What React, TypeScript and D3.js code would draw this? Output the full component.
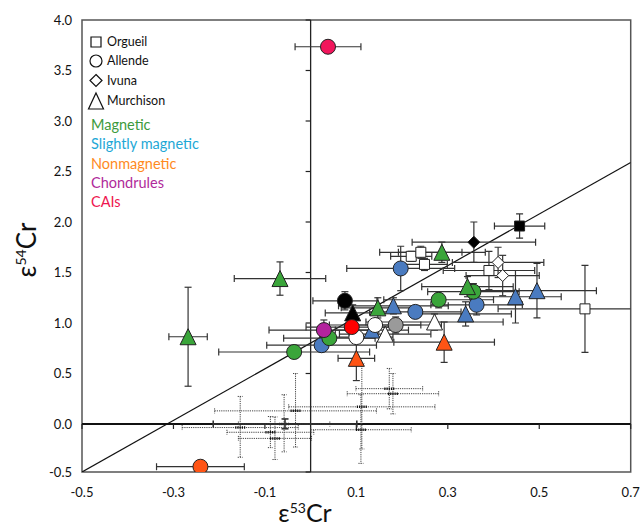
import * as d3 from "d3";

// [x (ε53Cr), y (ε54Cr), x error, y error]
type P = [number, number, number, number];

const xTicks = [-0.5, -0.3, -0.1, 0.1, 0.3, 0.5, 0.7];
const yTicks = [-0.5, 0, 0.5, 1, 1.5, 2, 2.5, 3, 3.5, 4];
const sampleNames = ["Orgueil", "Allende", "Ivuna", "Murchison"];
const fractionNames = ["Magnetic", "Slightly magnetic", "Nonmagnetic", "Chondrules", "CAIs"];

// Orgueil (squares)
const orgueilBlack: P[] = [[0.457, 1.96, 0.055, 0.12]];
const orgueilWhite: P[] = [
  [0.22, 1.66, 0.045, 0.05],
  [0.241, 1.7, 0.09, 0.06],
  [0.249, 1.58, 0.05, 0.06],
  [0.39, 1.52, 0.1, 0.19],
  [0.6, 1.14, 0.19, 0.43],
];

// Ivuna (diamonds)
const ivunaBlack: P[] = [[0.357, 1.8, 0.135, 0.2]];
const ivunaWhite: P[] = [
  [0.41, 1.6, 0.1, 0.15],
  [0.42, 1.47, 0.08, 0.2],
];

// Murchison (triangles)
const murchMagnetic: P[] = [
  [-0.067, 1.44, 0.1, 0.165],
  [-0.268, 0.864, 0.042, 0.49],
  [0.287, 1.7, 0.095, 0.1],
  [0.147, 1.15, 0.08, 0.1],
  [0.343, 1.36, 0.1, 0.1],
];
const murchSlight: P[] = [
  [0.134, 0.93, 0.08, 0.06],
  [0.181, 1.17, 0.12, 0.08],
  [0.339, 1.09, 0.1, 0.12],
  [0.448, 1.26, 0.1, 0.26],
  [0.495, 1.32, 0.13, 0.27],
];
const murchWhite: P[] = [
  [0.163, 0.89, 0.1, 0.07],
  [0.271, 1.01, 0.15, 0.08],
];
const murchNonmag: P[] = [
  [0.1, 0.65, 0.04, 0.22],
  [0.292, 0.81, 0.11, 0.2],
];
const murchBlack: P[] = [[0.092, 1.1, 0.06, 0.08]];

// Allende (circles)
const allMagnetic: P[] = [
  [-0.036, 0.713, 0.165, 0.05],
  [0.041, 0.85, 0.1, 0.06],
  [0.28, 1.23, 0.12, 0.08],
  [0.356, 1.31, 0.1, 0.08],
];
const allSlight: P[] = [
  [0.024, 0.78, 0.12, 0.06],
  [0.229, 1.11, 0.1, 0.06],
  [0.363, 1.18, 0.1, 0.1],
  [0.197, 1.54, 0.118, 0.22],
];
const allWhite: P[] = [
  [0.1, 0.86, 0.08, 0.06],
  [0.141, 0.98, 0.1, 0.06],
];
const allGray: P[] = [[0.186, 0.98, 0.1, 0.08]];
const allRed: P[] = [[0.09, 0.96, 0.1, 0.08]];
const allBlack: P[] = [[0.075, 1.22, 0.07, 0.09]];
const allNonmag: P[] = [[-0.241, -0.445, 0.096, 0]];
const chondrules: P[] = [[0.029, 0.93, 0.12, 0.1]];
const cais: P[] = [[0.038, 3.735, 0.072, 0]];

// literature data, dotted error bars only
const dottedBars: P[] = [
  [-0.154, -0.037, 0.127, 0.31],
  [-0.088, -0.086, 0.095, 0.16],
  [-0.078, -0.15, 0.08, 0.22],
  [-0.033, 0.13, 0.177, 0.37],
  [-0.058, 0.0, 0.1, 0.29],
  [0.112, 0.17, 0.16, 0.43],
  [0.11, -0.06, 0.11, 0.35],
  [0.172, 0.35, 0.073, 0.2],
  [0.18, 0.3, 0.1, 0.2],
];
const solidBars: P[] = [[-0.056, 0.0, 0.157, 0.05]];

// 1:1 reference line end points
const refLineX = [-0.5, 0.7];
const refLineY = [-0.5, 2.59];

const W = 644;
const H = 530;
const L = 82;
const R = 630.7;
const T = 20;
const B = 472;

const x = d3.scaleLinear().domain([-0.5, 0.7]).range([L, R]);
const y = d3.scaleLinear().domain([-0.5, 0, 4]).range([B, 424, T]);

const GREEN = "#3aa53a";
const BLUE = "#4a7bc0";
const ORANGE = "#ff5414";
const PURPLE = "#b3239d";
const CAI = "#f2165c";

type Shape = "square" | "circle" | "diamond" | "triangle";

const shapePath = (s: Shape, big = true): string => {
  if (s === "circle") {
    const r = big ? 7.5 : 6;
    return `M${-r},0A${r},${r} 0 1,0 ${r},0A${r},${r} 0 1,0 ${-r},0Z`;
  }
  if (s === "square") {
    const h = 5;
    return `M${-h},${-h}H${h}V${h}H${-h}Z`;
  }
  if (s === "diamond") {
    const h = 6;
    return `M0,${-h}L${h},0L0,${h}L${-h},0Z`;
  }
  const w = big ? 8 : 7.5;
  const h = 8;
  return `M0,${-h}L${w},${h}L${-w},${h}Z`;
};

const series: { data: P[]; shape: Shape; fill: string }[] = [
  { data: orgueilWhite, shape: "square", fill: "#fff" },
  { data: orgueilBlack, shape: "square", fill: "#000" },
  { data: ivunaWhite, shape: "diamond", fill: "#fff" },
  { data: ivunaBlack, shape: "diamond", fill: "#000" },
  { data: allNonmag, shape: "circle", fill: ORANGE },
  { data: allSlight, shape: "circle", fill: BLUE },
  { data: allMagnetic, shape: "circle", fill: GREEN },
  { data: murchMagnetic, shape: "triangle", fill: GREEN },
  { data: murchSlight, shape: "triangle", fill: BLUE },
  { data: chondrules, shape: "circle", fill: PURPLE },
  { data: allBlack, shape: "circle", fill: "#000" },
  { data: murchBlack, shape: "triangle", fill: "#000" },
  { data: allWhite, shape: "circle", fill: "#fff" },
  { data: allRed, shape: "circle", fill: "#ff0000" },
  { data: murchWhite, shape: "triangle", fill: "#fff" },
  { data: allGray, shape: "circle", fill: "#9a9a9a" },
  { data: murchNonmag, shape: "triangle", fill: ORANGE },
  { data: cais, shape: "circle", fill: CAI },
];

const legendColors = ["#3c9a3c", "#1ea8d6", "#ff8a1e", "#b02a9a", "#ee1650"];
const legendShapes: Shape[] = ["square", "circle", "diamond", "triangle"];

const FONT = "Lato, 'Open Sans', sans-serif";

const ErrorBar = ({ p, dotted, w = 1.2 }: { p: P; dotted?: boolean; w?: number }) => {
  const [vx, vy, ex, ey] = p;
  const cx = x(vx);
  const cy = y(vy);
  const cap = dotted ? 2.5 : 3.5;
  const stroke = dotted ? "#444" : "#333";
  const dash = dotted ? "1.2,1" : undefined;
  const x0 = Math.max(L, x(vx - ex));
  const x1 = Math.min(R, x(vx + ex));
  const y0 = y(vy + ey);
  const y1 = Math.min(B, y(vy - ey));
  return (
    <g stroke={stroke} strokeWidth={w} strokeDasharray={dash} fill="none">
      {ex > 0 && <line x1={x0} x2={x1} y1={cy} y2={cy} />}
      {ex > 0 && x(vx - ex) >= L && <line x1={x0} x2={x0} y1={cy - cap} y2={cy + cap} strokeDasharray={undefined} />}
      {ex > 0 && x(vx + ex) <= R && <line x1={x1} x2={x1} y1={cy - cap} y2={cy + cap} strokeDasharray={undefined} />}
      {ey > 0 && <line x1={cx} x2={cx} y1={y0} y2={y1} />}
      {ey > 0 && <line x1={cx - cap} x2={cx + cap} y1={y0} y2={y0} strokeDasharray={undefined} />}
      {ey > 0 && y(vy - ey) <= B && <line x1={cx - cap} x2={cx + cap} y1={y1} y2={y1} strokeDasharray={undefined} />}
      {dotted && <line x1={cx - 5} x2={cx + 5} y1={cy} y2={cy} stroke="#111" strokeWidth={2.5} strokeDasharray={undefined} />}
    </g>
  );
};

export default function App() {
  const line = d3
    .line<number>()
    .x((d) => x(refLineX[d]))
    .y((d) => y(refLineY[d]));

  return (
    <svg width={W} height={H} style={{ display: "block", position: "absolute", left: 0, top: 0 }} fontFamily={FONT}>
      <rect x={0} y={0} width={W} height={H} fill="#fff" />
      <defs>
        <clipPath id="plot">
          <rect x={L} y={T} width={R - L} height={B - T} />
        </clipPath>
      </defs>

      {/* plot frame */}
      <rect x={L} y={T} width={R - L} height={B - T} fill="none" stroke="#555" strokeWidth={1.5} />

      {/* axes through zero */}
      <line x1={L} x2={R} y1={y(0)} y2={y(0)} stroke="#111" strokeWidth={2} />
      <line x1={x(0)} x2={x(0)} y1={T} y2={B} stroke="#222" strokeWidth={1.3} />
      {yTicks.map((t) => (
        <line key={"yt" + t} x1={x(0) - 5} x2={x(0)} y1={y(t)} y2={y(t)} stroke="#222" strokeWidth={1.2} />
      ))}
      {xTicks.map((t) => (
        <line key={"xt" + t} x1={x(t)} x2={x(t)} y1={y(0)} y2={y(0) + 5} stroke="#222" strokeWidth={1.2} />
      ))}

      {/* tick labels */}
      {yTicks.map((t) => (
        <text key={"yl" + t} x={L - 10} y={y(t)} dy="0.35em" textAnchor="end" fontSize={13} fill="#111">
          {t.toFixed(1)}
        </text>
      ))}
      {xTicks.map((t) => (
        <text key={"xl" + t} x={x(t)} y={B + 25} textAnchor="middle" fontSize={13} fill="#111">
          {t.toFixed(1)}
        </text>
      ))}

      {/* axis titles */}
      <text x={305} y={522} textAnchor="middle" fontSize={25} fill="#111">
        ε<tspan fontSize={14} dy={-9}>53</tspan>
        <tspan dy={9}>Cr</tspan>
      </text>
      <text transform="translate(36,250) rotate(-90)" textAnchor="middle" fontSize={26} fill="#111">
        ε<tspan fontSize={14} dy={-10}>54</tspan>
        <tspan dy={10}>Cr</tspan>
      </text>

      <g clipPath="url(#plot)">
        {/* reference line */}
        <path d={line([0, 1]) ?? ""} stroke="#111" strokeWidth={1.2} fill="none" />

        {dottedBars.map((p, i) => (
          <ErrorBar key={"d" + i} p={p} dotted w={1} />
        ))}
        {solidBars.map((p, i) => (
          <ErrorBar key={"s" + i} p={p} w={1.6} />
        ))}
        {series.map((s, i) =>
          s.data.map((p, j) => <ErrorBar key={`e${i}-${j}`} p={p} />)
        )}
        {series.map((s, i) =>
          s.data.map((p, j) => (
            <path
              key={`m${i}-${j}`}
              d={shapePath(s.shape)}
              transform={`translate(${x(p[0])},${y(p[1])})`}
              fill={s.fill}
              stroke="#222"
              strokeWidth={1}
            />
          ))
        )}
      </g>

      {/* legend */}
      {sampleNames.map((n, i) => {
        const ly = [42, 61, 80.5, 101][i];
        return (
          <g key={n}>
            <path
              d={shapePath(legendShapes[i], false)}
              transform={`translate(96,${ly})`}
              fill="none"
              stroke="#111"
              strokeWidth={1.2}
            />
            <text x={107} y={ly} dy="0.35em" fontSize={12.5} fill="#111">
              {n}
            </text>
          </g>
        );
      })}
      {fractionNames.map((n, i) => (
        <text key={n} x={91} y={125 + i * 19.3} dy="0.35em" fontSize={14.5} fill={legendColors[i]}>
          {n}
        </text>
      ))}
    </svg>
  );
}
